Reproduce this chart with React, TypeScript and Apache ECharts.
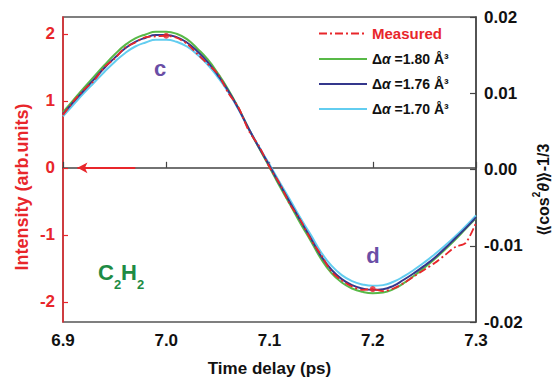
import React, { useEffect, useRef } from "react";
import * as echarts from "echarts";

const times = [
  6.9, 6.91, 6.92, 6.93, 6.94, 6.95, 6.96, 6.97, 6.98, 6.99,
  7.0, 7.01, 7.02, 7.03, 7.04, 7.05, 7.06, 7.07, 7.08, 7.09,
  7.1, 7.11, 7.12, 7.13, 7.14, 7.15, 7.16, 7.17, 7.18, 7.19,
  7.2, 7.21, 7.22, 7.23, 7.24, 7.25, 7.26, 7.27, 7.28, 7.29, 7.3,
];

const measured = [
  0.79, 0.99, 1.16, 1.3, 1.5, 1.63, 1.79, 1.87, 1.95, 1.96,
  1.97, 1.94, 1.85, 1.7, 1.55, 1.4, 1.12, 0.9, 0.55, 0.32,
  0.01, -0.24, -0.55, -0.78, -1.07, -1.3, -1.55, -1.68, -1.77, -1.82,
  -1.81, -1.84, -1.8, -1.72, -1.62, -1.52, -1.42, -1.3, -1.18, -1.12, -0.82,
];

const fit180 = [
  0.83, 1.01, 1.19, 1.36, 1.53, 1.69, 1.83, 1.93, 1.99, 2.03,
  2.03, 2.0, 1.92, 1.78, 1.62, 1.41, 1.17, 0.89, 0.58, 0.29,
  0.01, -0.28, -0.55, -0.83, -1.09, -1.36, -1.57, -1.71, -1.8, -1.85,
  -1.87, -1.86, -1.81, -1.72, -1.61, -1.49, -1.36, -1.22, -1.07, -0.91, -0.75,
];

const fit176 = [
  0.8, 0.98, 1.15, 1.32, 1.49, 1.64, 1.78, 1.88, 1.94, 1.98,
  1.98, 1.95, 1.87, 1.74, 1.58, 1.38, 1.15, 0.88, 0.58, 0.3,
  0.03, -0.25, -0.52, -0.79, -1.05, -1.32, -1.52, -1.66, -1.75, -1.8,
  -1.82, -1.81, -1.76, -1.67, -1.57, -1.46, -1.34, -1.2, -1.05, -0.9, -0.74,
];

const fit170 = [
  0.77, 0.94, 1.11, 1.27, 1.43, 1.58, 1.71, 1.81, 1.87, 1.91,
  1.91, 1.88, 1.81, 1.69, 1.54, 1.35, 1.13, 0.87, 0.58, 0.31,
  0.05, -0.22, -0.48, -0.75, -1.0, -1.26, -1.46, -1.6, -1.69, -1.74,
  -1.76, -1.75, -1.7, -1.62, -1.52, -1.41, -1.29, -1.16, -1.02, -0.87, -0.71,
];

const peakPoints = [
  [7.0, 1.97],
  [7.2, -1.81],
];

const arrowFrom = [6.97, 0];
const arrowTo = [6.914, 0];

const xTicks = [6.9, 7.0, 7.1, 7.2, 7.3];
const leftTicks = [-2, -1, 0, 1, 2];

const seriesNames = ["Measured", "d180", "d176", "d170"];
const legendLabels: Record<string, string> = {
  Measured: "Measured",
  d180: "{b|Δ}{i|α}{b| =1.80 Å³}",
  d176: "{b|Δ}{i|α}{b| =1.76 Å³}",
  d170: "{b|Δ}{i|α}{b| =1.70 Å³}",
};

const RED = "#e8262b";
const GREEN = "#58b947";
const NAVY = "#34378c";
const CYAN = "#62cdf0";
const FONT = "'Liberation Sans', Arial, 'DejaVu Sans', sans-serif";

const zip = (vals: number[]) => times.map((t, i) => [t, vals[i]]);

export default function App() {
  const ref = useRef<HTMLDivElement>(null);
  useEffect(() => {
    if (!ref.current) return;
    const chart = echarts.init(ref.current, null, { renderer: "svg" });
    chart.setOption({
      animation: false,
      backgroundColor: "#ffffff",
      textStyle: { fontFamily: FONT },
      grid: {
        left: 63,
        right: 83,
        top: 17,
        bottom: 61,
        show: true,
        borderColor: "#555",
        borderWidth: 1.5,
      },
      legend: {
        orient: "vertical",
        left: 313,
        top: 21,
        itemWidth: 48,
        itemHeight: 12,
        itemGap: 11,
        itemStyle: { opacity: 0 },
        data: seriesNames.map((n) =>
          n === "Measured"
            ? { name: n, textStyle: { color: RED, fontSize: 15, fontWeight: "bold" } }
            : { name: n }
        ),
        formatter: (n: string) => legendLabels[n],
        textStyle: {
          color: "#111",
          fontSize: 14,
          fontWeight: "bold",
          fontFamily: FONT,
          rich: {
            b: { fontSize: 14, fontWeight: "bold", color: "#111", fontFamily: FONT },
            i: { fontSize: 14, fontWeight: "bold", fontStyle: "italic", color: "#111", fontFamily: FONT },
          },
        },
      },
      xAxis: {
        type: "value",
        min: 6.9,
        max: 7.3,
        interval: 0.1,
        name: "Time delay (ps)",
        nameLocation: "middle",
        nameGap: 38,
        nameTextStyle: { fontSize: 17, fontWeight: "bold", color: "#111", fontFamily: FONT },
        axisLine: { show: true, lineStyle: { color: "#444", width: 1.5 } },
        axisTick: { show: true, inside: true, length: 6, lineStyle: { color: "#444", width: 1.2 }, customValues: xTicks },
        axisLabel: {
          fontSize: 17,
          fontWeight: "bold",
          color: "#111",
          margin: 10,
          customValues: xTicks,
          formatter: (v: number) => v.toFixed(1),
        },
        splitLine: { show: false },
      },
      yAxis: [
        {
          type: "value",
          min: -2.3,
          max: 2.25,
          axisLine: { show: true, lineStyle: { color: RED, width: 1.5 } },
          axisTick: { show: true, inside: true, length: 5, lineStyle: { color: RED, width: 1.2 }, customValues: leftTicks },
          axisLabel: {
            fontSize: 17,
            fontWeight: "bold",
            color: RED,
            margin: 8,
            customValues: leftTicks,
            formatter: (v: number) => String(Math.round(v)),
          },
          splitLine: { show: false },
        },
        {
          type: "value",
          position: "right",
          min: -0.02,
          max: 0.02,
          interval: 0.01,
          axisLine: { show: true, lineStyle: { color: "#444", width: 1.5 } },
          axisTick: { show: true, inside: true, length: 6, lineStyle: { color: "#444", width: 1.2 } },
          axisLabel: {
            fontSize: 17,
            fontWeight: "bold",
            color: "#111",
            margin: 8,
            formatter: (v: number) => v.toFixed(2),
          },
          splitLine: { show: false },
        },
      ],
      series: [
        {
          name: "d180",
          type: "line",
          data: zip(fit180),
          smooth: true,
          symbol: "none",
          lineStyle: { color: GREEN, width: 2 },
          itemStyle: { color: GREEN },
          z: 2,
        },
        {
          name: "d170",
          type: "line",
          data: zip(fit170),
          smooth: true,
          symbol: "none",
          lineStyle: { color: CYAN, width: 2 },
          itemStyle: { color: CYAN },
          z: 2,
        },
        {
          name: "d176",
          type: "line",
          data: zip(fit176),
          smooth: true,
          symbol: "none",
          lineStyle: { color: NAVY, width: 2 },
          itemStyle: { color: NAVY },
          z: 3,
        },
        {
          name: "Measured",
          type: "line",
          data: zip(measured),
          smooth: 0.3,
          symbol: "none",
          lineStyle: { color: RED, width: 1.8, type: [8, 3, 2, 3] },
          itemStyle: { color: RED },
          z: 4,
          markLine: {
            silent: true,
            symbol: ["none", "arrow"],
            symbolSize: [8, 10],
            label: { show: false },
            lineStyle: { color: RED, type: "solid", width: 2 },
            data: [[{ coord: arrowFrom }, { coord: arrowTo }]],
          },
        },
        {
          name: "peaks",
          type: "scatter",
          data: peakPoints,
          symbolSize: 6,
          itemStyle: { color: RED },
          z: 5,
        },
      ],
      graphic: [
        {
          type: "text",
          x: 22,
          y: 187,
          rotation: Math.PI / 2,
          style: {
            text: "Intensity (arb.units)",
            fill: RED,
            font: `bold 18px ${FONT}`,
            align: "center",
            verticalAlign: "middle",
          },
        },
        {
          type: "text",
          x: 541,
          y: 190,
          rotation: Math.PI / 2,
          style: {
            text: "{b|⟪cos}{s|2}{i|θ}{b|⟫-1/3}",
            align: "center",
            verticalAlign: "middle",
            rich: {
              b: { fill: "#111", font: `bold 16px ${FONT}`, verticalAlign: "bottom", lineHeight: 20 },
              s: { fill: "#111", font: `bold 10px ${FONT}`, verticalAlign: "top", lineHeight: 20 },
              i: { fill: "#111", font: `italic bold 16px ${FONT}`, verticalAlign: "bottom", lineHeight: 20 },
            },
          },
        },
        {
          type: "text",
          x: 160,
          y: 68,
          style: {
            text: "c",
            fill: "#6a4ea6",
            font: `bold 22px ${FONT}`,
            align: "center",
            verticalAlign: "middle",
          },
        },
        {
          type: "text",
          x: 373,
          y: 255,
          style: {
            text: "d",
            fill: "#6a4ea6",
            font: `bold 22px ${FONT}`,
            align: "center",
            verticalAlign: "middle",
          },
        },
        {
          type: "text",
          x: 98,
          y: 261,
          style: {
            text: "{b|C}{s|2}{b|H}{s|2}",
            rich: {
              b: { fill: "#1e8b44", font: `bold 22px ${FONT}`, verticalAlign: "top", lineHeight: 30 },
              s: { fill: "#1e8b44", font: `bold 13px ${FONT}`, verticalAlign: "bottom", lineHeight: 30 },
            },
          },
        },
      ],
    });
    return () => chart.dispose();
  }, []);
  return (
    <div
      ref={ref}
      style={{ position: "fixed", left: 0, top: 0, width: 559, height: 383 }}
    />
  );
}
